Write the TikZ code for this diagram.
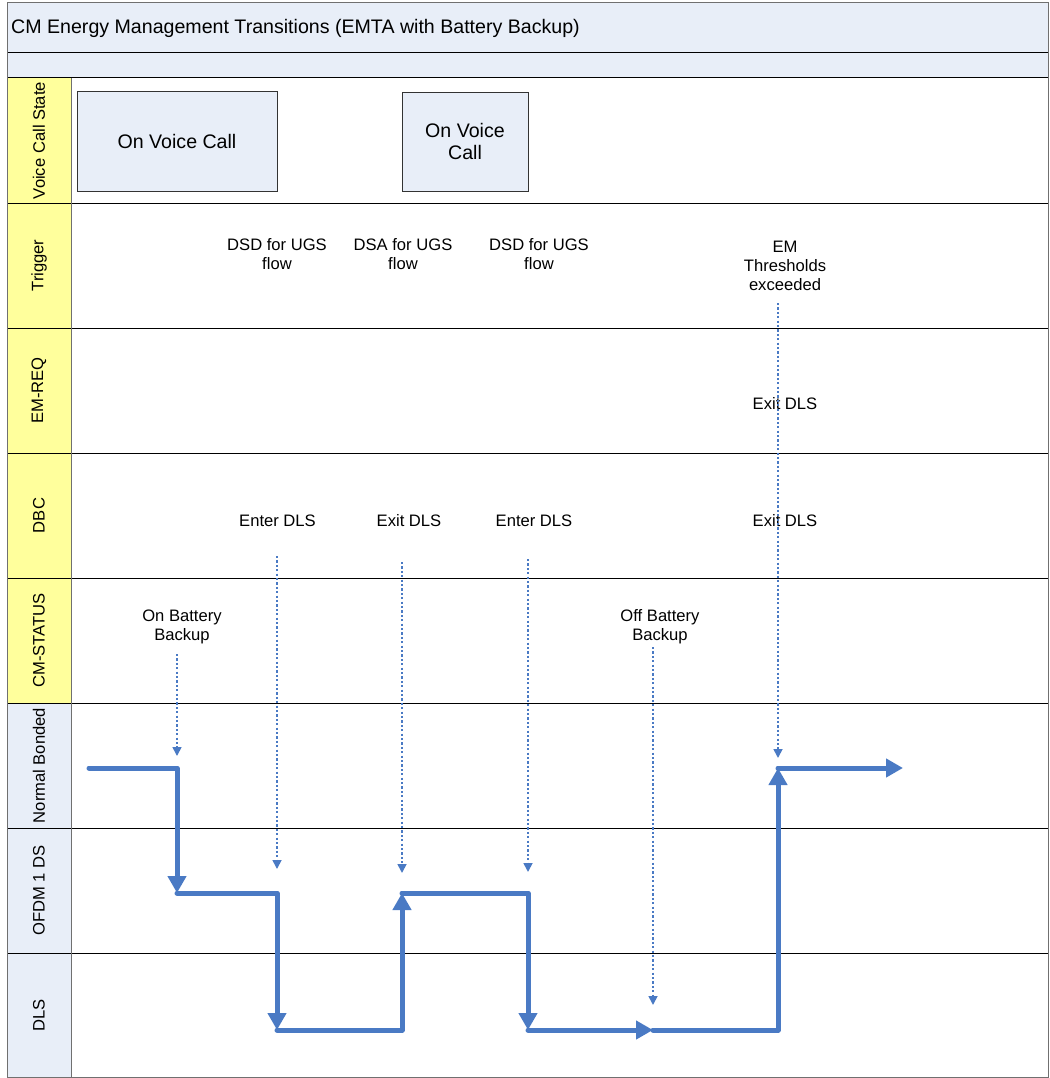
\documentclass[tikz,border=0pt]{standalone}
\usepackage{fontspec}
\setmainfont{Liberation Sans}
\usetikzlibrary{arrows.meta}
\definecolor{hdr}{HTML}{E8EEF8}
\definecolor{laney}{HTML}{FFFF9C}
\definecolor{flowc}{HTML}{4A7AC4}
\definecolor{framec}{HTML}{707070}
\begin{document}
\begin{tikzpicture}[x=1pt,y=-1pt,
  titlefont/.style={font={\fontsize{19.6}{23.5}\selectfont}},
  lanelbl/.style={rotate=90,inner sep=0pt,font={\fontsize{16.6}{19}\selectfont}},
  lbl/.style={align=center,inner sep=0pt,font={\fontsize{16.6}{19}\selectfont}},
  vbox/.style={draw=black!80,fill=hdr,line width=0.8pt,align=center,inner sep=0pt,font={\fontsize{19.6}{22.5}\selectfont}},
  flowline/.style={draw=flowc,line width=5pt,line cap=round,line join=round},
  flowarrow/.style={flowline,-{Triangle[width=18pt,length=17pt]}},
  trig/.style={draw=flowc,line width=1.7pt,dash pattern=on 2.2pt off 2.2pt,-{Triangle[width=9pt,length=9pt]}},
  sep/.style={draw=black,line width=1pt}
]
\useasboundingbox (0,0) rectangle (1049,1078);
% header bands
\fill[hdr] (7,3) rectangle (1048,78);
% lane label column
\fill[laney] (7,78) rectangle (71,703);
\fill[hdr] (7,703) rectangle (71,1077);
\draw[sep] (7,53) -- (1048,53);
\foreach \yy in {78,203,328,453,578,703,828,953} {\draw[sep] (7,\yy) -- (1048,\yy);}
\draw[framec,line width=1pt] (71,78) -- (71,1077);
\draw[framec,line width=1pt] (7,3) rectangle (1048,1077);

% title
\node[titlefont,anchor=west,inner sep=0pt] (title) at (11,28) {CM Energy Management Transitions (EMTA with Battery Backup)};

% lane labels
\node[lanelbl] (lVCS) at (39,140.5) {Voice Call State};
\node[lanelbl] (lTrig) at (39,265.5) {Trigger};
\node[lanelbl] (lEMREQ) at (39,390.5) {EM-REQ};
\node[lanelbl] (lDBC) at (39,515.5) {DBC};
\node[lanelbl] (lCMS) at (39,640.5) {CM-STATUS};
\node[lanelbl] (lNB) at (39,765.5) {Normal Bonded};
\node[lanelbl] (lOFDM) at (39,890.5) {OFDM 1 DS};
\node[lanelbl] (lDLS) at (39,1015.5) {DLS};

% voice call boxes
\node[vbox,minimum width=200pt,minimum height=100pt] (vc1) at (177,141) {On Voice Call};
\node[vbox,minimum width=126pt,minimum height=99pt] (vc2) at (465,141.5) {On Voice\\Call};

% trigger labels
\node[lbl] (t1) at (277,254.5) {DSD for UGS\\flow};
\node[lbl] (t2) at (403,254.5) {DSA for UGS\\flow};
\node[lbl] (t3) at (539,254.5) {DSD for UGS\\flow};
\node[lbl] (t4) at (785,266) {EM\\Thresholds\\exceeded};
% EM-REQ
\node[lbl] (e1) at (785,404) {Exit DLS};
% DBC
\node[lbl] (d1) at (277.5,521) {Enter DLS};
\node[lbl] (d2) at (409,521) {Exit DLS};
\node[lbl] (d3) at (534,521) {Enter DLS};
\node[lbl] (d4) at (785,521) {Exit DLS};
% CM-STATUS
\node[lbl] (c1) at (182,626.5) {On Battery\\Backup};
\node[lbl] (c2) at (660,626.5) {Off Battery\\Backup};

% trigger dotted arrows
\coordinate (s1) at (177,654); \coordinate (f1) at (177,756);
\coordinate (s2) at (277,556); \coordinate (f2) at (277,869);
\coordinate (s3) at (402,562); \coordinate (f3) at (402,873);
\coordinate (s4) at (528,559); \coordinate (f4) at (528,872);
\coordinate (s5) at (653,647); \coordinate (f5) at (653,1005);
\coordinate (s6) at (778,303); \coordinate (f6) at (778,758);
\foreach \i in {1,...,6} {\draw[trig] (s\i) -- (f\i);}

% state path
\coordinate (p0) at (89,768);
\coordinate (p1) at (177,768);
\coordinate (p2) at (177,893);
\coordinate (p3) at (277,893);
\coordinate (p4) at (277,1030);
\coordinate (p5) at (402,1030);
\coordinate (p6) at (402,893);
\coordinate (p7) at (528,893);
\coordinate (p8) at (528,1030);
\coordinate (p9) at (653,1030);
\coordinate (p10) at (778,1030);
\coordinate (p11) at (778,768);
\coordinate (p12) at (903,768);
\draw[flowarrow] (p0) -- (p1) -- (p2);
\draw[flowarrow] (p2) -- (p3) -- (p4);
\draw[flowarrow] (p4) -- (p5) -- (p6);
\draw[flowarrow] (p6) -- (p7) -- (p8);
\draw[flowarrow] (p8) -- (p9);
\draw[flowarrow] (p9) -- (p10) -- (p11);
\draw[flowarrow] (p11) -- (p12);
\end{tikzpicture}
\end{document}
